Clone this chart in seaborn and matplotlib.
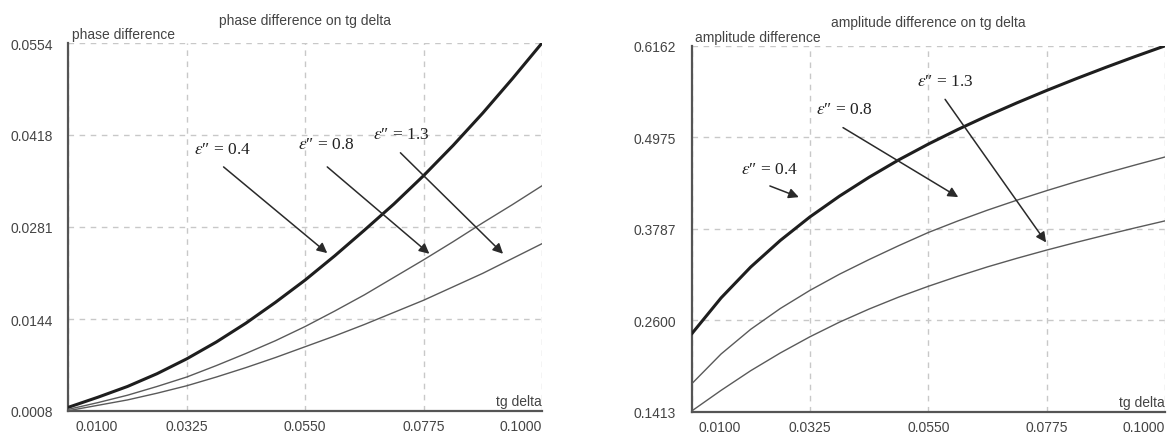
import numpy as np
import pandas as pd
import matplotlib
matplotlib.use("Agg")
from matplotlib import pyplot as plt
import seaborn as sns

# values
tg_delta = [0.01, 0.015625, 0.02125, 0.026875, 0.0325, 0.038125, 0.04375, 0.049375, 0.055,
            0.060625, 0.06625, 0.071875, 0.0775, 0.083125, 0.08875, 0.094375, 0.1]
eps_labels = ["0.4", "0.8", "1.3"]

phase_04 = [0.0013, 0.0028, 0.0044, 0.0063, 0.0085, 0.0110, 0.0138, 0.0169, 0.0202,
            0.0238, 0.0276, 0.0315, 0.0357, 0.0402, 0.0450, 0.0501, 0.0554]
phase_08 = [0.0010, 0.0020, 0.0031, 0.0044, 0.0058, 0.0075, 0.0093, 0.0112, 0.0133,
            0.0156, 0.0180, 0.0206, 0.0232, 0.0259, 0.0287, 0.0314, 0.0342]
phase_13 = [0.0008, 0.0016, 0.0024, 0.0034, 0.0045, 0.0058, 0.0072, 0.0087, 0.0103,
            0.0119, 0.0136, 0.0154, 0.0172, 0.0192, 0.0212, 0.0234, 0.0256]

amp_04 = [0.2420, 0.2890, 0.3290, 0.3635, 0.3940, 0.4210, 0.4455, 0.4680, 0.4885,
          0.5075, 0.5253, 0.5421, 0.5581, 0.5734, 0.5881, 0.6023, 0.6160]
amp_08 = [0.1772, 0.2162, 0.2482, 0.2752, 0.2987, 0.3197, 0.3387, 0.3567, 0.3738,
          0.3888, 0.4028, 0.4158, 0.4281, 0.4398, 0.4509, 0.4615, 0.4718]
amp_13 = [0.1420, 0.1690, 0.1945, 0.2175, 0.2385, 0.2575, 0.2745, 0.2900, 0.3040,
          0.3170, 0.3292, 0.3404, 0.3510, 0.3610, 0.3706, 0.3799, 0.3889]

x_ticks = [0.0100, 0.0325, 0.0550, 0.0775, 0.1000]
phase_ticks = [0.0008, 0.0144, 0.0281, 0.0418, 0.0554]
amp_ticks = [0.1413, 0.2600, 0.3787, 0.4975, 0.6162]

# label position, arrow tail, arrow head (data coords)
phase_notes = [((0.0393, 0.0385), (0.0395, 0.0370), (0.0592, 0.0242)),
               ((0.0590, 0.0392), (0.0592, 0.0370), (0.0786, 0.0241)),
               ((0.0733, 0.0407), (0.0731, 0.0391), (0.0926, 0.0241))]
amp_notes = [((0.0249, 0.4455), (0.0249, 0.4342), (0.0304, 0.4197)),
             ((0.0390, 0.5232), (0.0388, 0.5099), (0.0607, 0.4197)),
             ((0.0582, 0.5595), (0.0582, 0.5466), (0.0774, 0.3609))]

sns.set_style("white")
plt.rcParams["font.family"] = ["Liberation Sans", "DejaVu Sans"]
plt.rcParams["mathtext.fontset"] = "stix"

TXT = "#444444"


def long_frame(series):
    rows = []
    for eps, vals in zip(eps_labels, series):
        for x, v in zip(tg_delta, vals):
            rows.append({"tg": x, "value": v, "eps": eps})
    return pd.DataFrame(rows)


def draw_panel(ax, df, yticks, title, ylabel, notes):
    sns.lineplot(data=df, x="tg", y="value", hue="eps", size="eps",
                 palette={"0.4": "#1e1e1e", "0.8": "#5a5a5a", "1.3": "#5a5a5a"},
                 sizes={"0.4": 2.2, "0.8": 1.0, "1.3": 1.0},
                 legend=False, ax=ax, zorder=3)
    ax.set_xlim(x_ticks[0], x_ticks[-1])
    ax.set_ylim(yticks[0], yticks[-1])
    ax.set_xticks(x_ticks)
    ax.set_yticks(yticks)
    # first x label sits inside the axes, drawn separately below
    ax.set_xticklabels([""] + ["%.4f" % t for t in x_ticks[1:]])
    ax.set_yticklabels(["%.4f" % t for t in yticks])
    ax.get_xticklabels()[-1].set_horizontalalignment("right")
    ax.annotate("%.4f" % x_ticks[0], xy=(x_ticks[0], 0), xycoords=("data", "axes fraction"),
                xytext=(7, -8), textcoords="offset pixels", ha="left", va="top",
                fontsize=10, color=TXT)
    ax.tick_params(axis="both", length=0, labelsize=10, labelcolor=TXT)
    ax.tick_params(axis="x", pad=6)
    ax.tick_params(axis="y", pad=11)
    ax.grid(True, color="#c8c8c8", linestyle=(0, (4, 4)), linewidth=1)
    for s in ["top", "right"]:
        ax.spines[s].set_visible(False)
    for s in ["left", "bottom"]:
        ax.spines[s].set_color("#555555")
        ax.spines[s].set_linewidth(1.6)
    ax.set_xlabel("")
    ax.set_ylabel("")
    ax.set_title(title, fontsize=10, color=TXT, pad=14)
    ax.text(0.008, 1.005, ylabel, transform=ax.transAxes, ha="left", va="bottom",
            fontsize=10, color=TXT)
    ax.text(1.0, 0.008, "tg delta", transform=ax.transAxes, ha="right", va="bottom",
            fontsize=10, color=TXT)
    for eps, (txt, tail, head) in zip(eps_labels, notes):
        ax.text(txt[0], txt[1], r"$\varepsilon$″ = " + eps, ha="center", va="bottom",
                fontsize=12.5, family=["Liberation Serif", "DejaVu Serif"], color="#222222")
        ax.annotate("", xy=head, xytext=tail,
                    arrowprops=dict(arrowstyle="-|>", color="#2a2a2a", lw=1.1,
                                    mutation_scale=15, shrinkA=0, shrinkB=0))


fig = plt.figure(figsize=(11.73, 4.35), dpi=100)
ax1 = fig.add_axes([68.3 / 1173, 1 - 411.7 / 435, (542 - 68.3) / 1173, (411.7 - 44) / 435])
ax2 = fig.add_axes([691.5 / 1173, 1 - 412.7 / 435, (1165 - 691.5) / 1173, (412.7 - 46.7) / 435])

draw_panel(ax1, long_frame([phase_04, phase_08, phase_13]), phase_ticks,
           "phase difference on tg delta", "phase difference", phase_notes)
draw_panel(ax2, long_frame([amp_04, amp_08, amp_13]), amp_ticks,
           "amplitude difference on tg delta", "amplitude difference", amp_notes)

fig.savefig("out.png", dpi=100)
